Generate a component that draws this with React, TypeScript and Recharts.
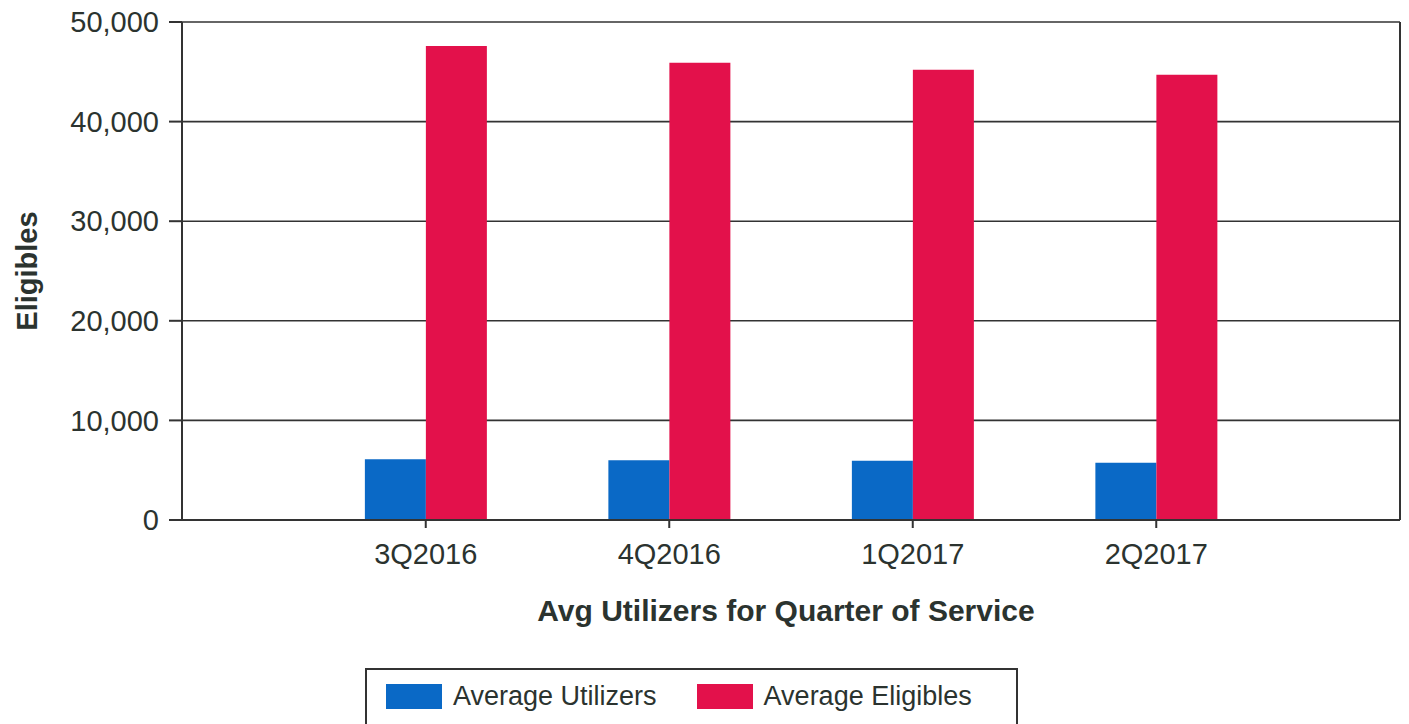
import React from 'react';
import { BarChart, Bar, XAxis, YAxis, CartesianGrid, Legend } from 'recharts';

const quarters = ['3Q2016', '4Q2016', '1Q2017', '2Q2017'];
const avgUtilizers = [6100, 6000, 5950, 5750];
const avgEligibles = [47600, 45900, 45200, 44700];
const yTicks = [0, 10000, 20000, 30000, 40000, 50000];
const seriesOrder = ['utilizers', 'eligibles'];

const data = quarters.map((q, i) => ({
  quarter: q,
  utilizers: avgUtilizers[i],
  eligibles: avgEligibles[i],
}));

const FONT = '"Liberation Sans", Arial, sans-serif';
const INK = '#2b332f';
const LINE = '#333';

const LegendBox = (props: any) => {
  const items = [...(props.payload || [])].sort(
    (a: any, b: any) => seriesOrder.indexOf(a.dataKey) - seriesOrder.indexOf(b.dataKey)
  );
  return (
    <div
      style={{
        border: `2px solid ${LINE}`,
        height: 70,
        boxSizing: 'border-box',
        display: 'flex',
        alignItems: 'flex-start',
        paddingTop: 13,
        paddingLeft: 19,
        fontFamily: FONT,
        fontSize: 27,
        color: INK,
        background: '#fff',
      }}
    >
      {items.map((entry: any, i: number) => (
        <div key={`item-${i}`} style={{ display: 'flex', alignItems: 'center', marginRight: 40 }}>
          <span style={{ display: 'inline-block', width: 56, height: 25, background: entry.color, marginRight: 11 }} />
          <span style={{ lineHeight: '27px' }}>{entry.value}</span>
        </div>
      ))}
    </div>
  );
};

export default function App() {
  return (
    <div style={{ position: 'absolute', left: 0, top: 0, background: '#fff' }}>
      <BarChart
        width={1409}
        height={724}
        data={data}
        margin={{ top: 22, right: 8, bottom: 100, left: 0 }}
        barCategoryGap="25%"
        barGap={0}
      >
        <CartesianGrid vertical={false} stroke={LINE} strokeWidth={1.6} />
        <XAxis
          dataKey="quarter"
          padding={{ left: 122, right: 122 }}
          height={104}
          stroke={LINE}
          strokeWidth={2}
          tickSize={8}
          tickMargin={15}
          tick={{ fill: INK, fontSize: 29, fontFamily: FONT }}
          label={{
            value: 'Avg Utilizers for Quarter of Service',
            position: 'insideBottom',
            offset: 3,
            dx: -5,
            style: { fill: INK, fontSize: 30, fontWeight: 'bold', fontFamily: FONT },
          }}
        />
        <YAxis
          domain={[0, 50000]}
          ticks={yTicks}
          width={182}
          stroke={LINE}
          strokeWidth={2}
          tickSize={13}
          tickMargin={10}
          interval={0}
          tickFormatter={(v: number) => v.toLocaleString('en-US')}
          tick={{ fill: INK, fontSize: 29, fontFamily: FONT }}
          label={{
            value: 'Eligibles',
            angle: -90,
            position: 'insideLeft',
            offset: 27,
            style: { fill: INK, fontSize: 29, fontWeight: 'bold', fontFamily: FONT, textAnchor: 'middle' },
          }}
        />
        <YAxis
          yAxisId="frame"
          orientation="right"
          width={1}
          domain={[0, 50000]}
          tick={false}
          tickLine={false}
          stroke={LINE}
          strokeWidth={2}
        />
        <Legend
          verticalAlign="middle"
          align="center"
          layout="horizontal"
          content={<LegendBox />}
          wrapperStyle={{ top: 668, left: 365, width: 653 }}
        />
        <Bar dataKey="utilizers" name="Average Utilizers" fill="#0a69c6" isAnimationActive={false} />
        <Bar dataKey="eligibles" name="Average Eligibles" fill="#e3114b" isAnimationActive={false} />
      </BarChart>
    </div>
  );
}
